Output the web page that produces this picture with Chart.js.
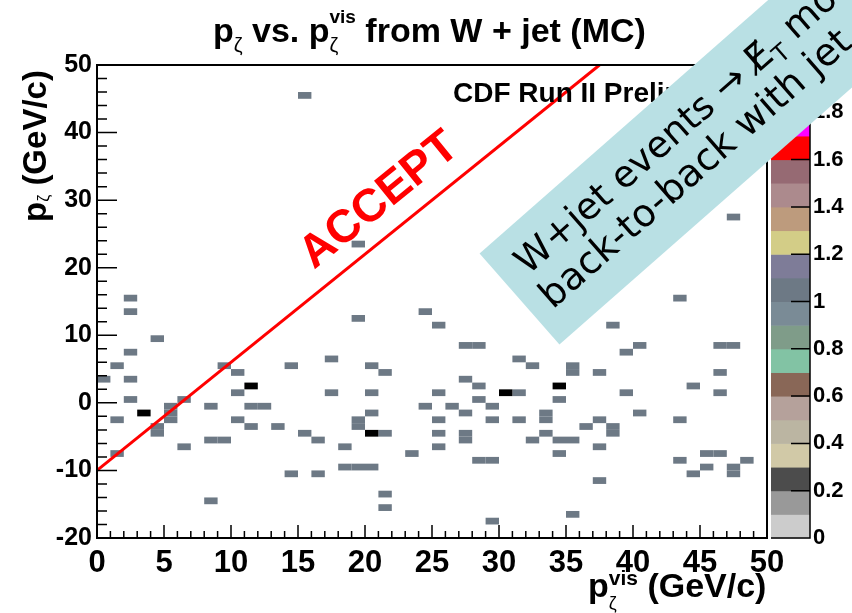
<!DOCTYPE html>
<html>
<head>
<meta charset="utf-8">
<script src="https://cdn.jsdelivr.net/npm/chart.js@4.4.1/dist/chart.umd.min.js"></script>
<style>
  html, body { margin: 0; padding: 0; background: #fff; }
  canvas { display: block; }
</style>
</head>
<body>
<canvas id="zetaChart" width="852" height="613"></canvas>
<script>
// lower edges of the filled 1x1 GeV/c bins and their contents
const binX = [2, 2, 19, 24, 4, 2, 1, 9, 14, 17, 20, 0, 2, 10, 21, 2, 10, 17, 20, 6,
    5, 5, 5, 1, 4, 4, 8, 11, 12, 10, 11, 13, 15, 16, 18, 19, 19, 20, 21, 24,
    8, 9, 6, 1, 23, 18, 19, 20, 14, 16, 21, 21, 8, 15, 19,
    47, 43, 25, 38, 27, 28, 39, 40, 46, 47, 31, 32, 35, 35, 37, 46, 27, 28, 44, 31,
    25, 39, 46, 26, 28, 29, 34, 27, 40, 25, 29, 31, 33, 33, 37, 43, 36, 38, 38, 25,
    27, 27, 33, 32, 34, 35, 25, 37, 34, 28, 29, 43, 45, 46, 48, 45, 44, 47, 47, 37,
    35, 29,
    11, 3, 20, 30, 34];
const binY = [15, 13, 12, 13, 9, 7, 5, 5, 5, 6, 5, 3, 3, 4, 4, 0, 1, 1, 1, 0,
    -1, -2, -3, -3, -4, -5, -1, -1, -1, -3, -4, -4, -5, -6, -7, -3, -4, -2, -5, -1,
    -6, -6, -7, -8, -8, -10, -10, -10, -11, -11, -14, -16, -15, 45, 23,
    27, 15, 11, 11, 8, 8, 7, 8, 8, 8, 6, 5, 5, 4, 4, 4, 3, 2, 2, 1,
    1, 1, 1, -1, 0, -1, 0, -2, -2, -3, -3, -3, -2, -3, -3, -3, -4, -4, -5, -5,
    -5, -6, -5, -6, -6, -6, -7, -7, -8, -9, -9, -9, -8, -8, -9, -10, -11, -10, -11, -12,
    -17, -18,
    2, -2, -5, 1, 2];
const binCount = binX.map((v, k) => k >= binX.length - 5 ? 2 : 1);
const binWidth = 1;
const binHeight = 1;

// "ACCEPT" cut line
const acceptX = [0, 37.5];
const acceptY = [-10, 50];

// colour palette of the z axis, one colour per 0.1
const paletteStep = 0.1;
const paletteColors = ['#cccccc', '#999999', '#4c4c4c', '#d1c9a7', '#bbb5a2', '#b5a19b', '#896757',
    '#82c3a4', '#7f9c89', '#7a8b96', '#6d7985', '#7e7c98', '#d3cd87', '#bd9b7d', '#ac8a8d',
    '#966a73', '#ff0000', '#ff00ff', '#0000ff', '#000000'];
const overflowColor = '#000000';

const boldFont = 'bold {s}px "Liberation Sans", Arial, sans-serif';
const plainFont = '{s}px "Liberation Sans", Arial, sans-serif';
function bold(s) { return boldFont.replace('{s}', s); }
function plain(s) { return plainFont.replace('{s}', s); }

function colorFor(v) {
    const k = Math.floor(v / paletteStep + 1e-6);
    return k < paletteColors.length ? paletteColors[k] : overflowColor;
}

// draws text pieces one after another; a piece with "stack" puts sub/superscripts at one x
function drawRuns(ctx, x, y, runs) {
    for (const r of runs) {
        if (r.stack) {
            let w = 0;
            for (const s of r.stack) {
                ctx.font = s.font;
                ctx.fillText(s.t, x, y + s.dy);
                w = Math.max(w, ctx.measureText(s.t).width);
            }
            x += w;
        } else {
            ctx.font = r.font;
            ctx.fillText(r.t, x, y + (r.dy || 0));
            x += ctx.measureText(r.t).width;
        }
    }
    return x;
}

const histPlugin = {
    id: 'hist2d',
    beforeDatasetsDraw(chart) {
        const { ctx, scales: { x, y } } = chart;
        ctx.save();
        for (let k = 0; k < binX.length; k++) {
            const x0 = x.getPixelForValue(binX[k]);
            const x1 = x.getPixelForValue(binX[k] + binWidth);
            const y0 = y.getPixelForValue(binY[k] + binHeight);
            const y1 = y.getPixelForValue(binY[k]);
            ctx.fillStyle = colorFor(binCount[k]);
            ctx.fillRect(x0, y0, x1 - x0, y1 - y0);
        }
        ctx.restore();
    },
    afterDatasetsDraw(chart) {
        const { ctx, chartArea: a, scales: { x, y, z } } = chart;
        ctx.save();
        // frame
        ctx.strokeStyle = '#000';
        ctx.lineWidth = 2;
        ctx.strokeRect(a.left, a.top, a.right - a.left, a.bottom - a.top);
        // inward ticks
        ctx.lineWidth = 1.5;
        ctx.beginPath();
        for (let v = 0; v <= 50; v += 1) {
            const px = x.getPixelForValue(v);
            ctx.moveTo(px, a.bottom);
            ctx.lineTo(px, a.bottom - (v % 5 === 0 ? 13 : 7));
        }
        for (let v = -20; v <= 50; v += 2) {
            const py = y.getPixelForValue(v);
            ctx.moveTo(a.left, py);
            ctx.lineTo(a.left + (v % 10 === 0 ? 20 : 10), py);
        }
        ctx.stroke();

        // colour bar
        const cl = a.right + 4, cr = a.right + 43;
        for (let k = 0; k < paletteColors.length; k++) {
            const yb = z.getPixelForValue(k * paletteStep);
            const yt = z.getPixelForValue((k + 1) * paletteStep);
            ctx.fillStyle = paletteColors[k];
            ctx.fillRect(cl, yt, cr - cl, yb - yt + 0.5);
        }
        ctx.lineWidth = 1.5;
        ctx.beginPath();
        ctx.moveTo(cr, a.top);
        ctx.lineTo(cr, a.bottom);
        ctx.lineTo(cl, a.bottom);
        for (let v = 0; v < 2; v += 0.2) {
            const py = z.getPixelForValue(v);
            ctx.moveTo(cr, py);
            ctx.lineTo(cr - 19, py);
        }
        ctx.stroke();

        // ACCEPT label along the cut line
        ctx.fillStyle = '#ff0000';
        ctx.font = bold(46);
        ctx.textBaseline = 'alphabetic';
        ctx.save();
        ctx.translate(314, 270);
        ctx.rotate(-39 * Math.PI / 180);
        ctx.fillText('ACCEPT', 0, 0);
        ctx.restore();

        ctx.fillStyle = '#000';
        ctx.font = bold(28);
        ctx.fillText('CDF Run II Preliminary', 453, 102);
        ctx.restore();
    },
    afterDraw(chart) {
        const { ctx } = chart;
        ctx.save();
        ctx.fillStyle = '#000';
        ctx.textBaseline = 'alphabetic';
        ctx.textAlign = 'left';
        // title
        drawRuns(ctx, 213, 42, [
            { t: 'p', font: bold(34) },
            { t: 'ζ', font: plain(20), dy: 10 },
            { t: ' vs. ', font: bold(34) },
            { t: 'p', font: bold(34) },
            { stack: [{ t: 'vis', font: bold(19), dy: -19 }, { t: 'ζ', font: plain(20), dy: 10 }] },
            { t: ' from W + jet (MC)', font: bold(34) }
        ]);
        // x axis title
        drawRuns(ctx, 588, 597, [
            { t: 'p', font: bold(34) },
            { stack: [{ t: 'vis', font: bold(21), dy: -12 }, { t: 'ζ', font: plain(18), dy: 12 }] },
            { t: ' (GeV/c)', font: bold(34) }
        ]);
        // y axis title
        ctx.save();
        ctx.translate(46, 222);
        ctx.rotate(-Math.PI / 2);
        drawRuns(ctx, 0, 0, [
            { t: 'p', font: bold(33) },
            { t: 'ζ', font: plain(16), dy: 3 },
            { t: ' (GeV/c)', font: bold(33) }
        ]);
        ctx.restore();

        // annotation box
        ctx.save();
        ctx.translate(519.5, 299);
        ctx.rotate(-41.3 * Math.PI / 180);
        ctx.fillStyle = 'rgb(185,224,228)';
        ctx.fillRect(0, -60.5, 900, 121);
        ctx.fillStyle = '#000';
        drawRuns(ctx, 22, -12, [
            { t: 'W+jet events → E\u0338', font: '37px "DejaVu Sans", sans-serif' },
            { t: 'T', font: '24px "DejaVu Sans", sans-serif', dy: 8 },
            { t: ' mostly', font: '37px "DejaVu Sans", sans-serif' }
        ]);
        drawRuns(ctx, 18, 30, [{ t: 'back-to-back with jet', font: '38px "DejaVu Sans", sans-serif' }]);
        ctx.restore();
        ctx.restore();
    }
};

const ctx = document.getElementById('zetaChart').getContext('2d');
const zetaChart = new Chart(ctx, {
    type: 'scatter',
    data: {
        datasets: [{
            label: 'accept',
            data: acceptX.map((v, k) => ({ x: v, y: acceptY[k] })),
            showLine: true,
            borderColor: '#ff0000',
            borderWidth: 3,
            pointRadius: 0,
            xAxisID: 'x',
            yAxisID: 'y'
        }]
    },
    options: {
        responsive: false,
        animation: false,
        layout: { padding: { top: 65, right: 0, left: 0, bottom: 0 } },
        plugins: {
            legend: { display: false },
            tooltip: { enabled: false },
            title: { display: false }
        },
        scales: {
            x: {
                type: 'linear', min: 0, max: 50,
                grid: { display: false, drawTicks: false },
                border: { display: false },
                ticks: {
                    stepSize: 5, autoSkip: false, maxRotation: 0, color: '#000', padding: 7,
                    font: { family: '"Liberation Sans", Arial, sans-serif', weight: 'bold', size: 31 }
                },
                afterFit: s => { s.height = 75; }
            },
            y: {
                type: 'linear', position: 'left', min: -20, max: 50,
                grid: { display: false, drawTicks: false },
                border: { display: false },
                ticks: {
                    stepSize: 10, color: '#000', padding: 5,
                    font: { family: '"Liberation Sans", Arial, sans-serif', weight: 'bold', size: 25 }
                },
                afterFit: s => { s.width = 97; }
            },
            z: {
                type: 'linear', position: 'right', min: 0, max: 2,
                grid: { display: false, drawTicks: false },
                border: { display: false },
                ticks: {
                    stepSize: 0.2, color: '#000', padding: 46,
                    font: { family: '"Liberation Sans", Arial, sans-serif', weight: 'bold', size: 22 },
                    callback: v => v > 1.85 ? '' : String(Math.round(v * 10) / 10)
                },
                afterFit: s => { s.width = 85; }
            }
        }
    },
    plugins: [histPlugin]
});
</script>
</body>
</html>
